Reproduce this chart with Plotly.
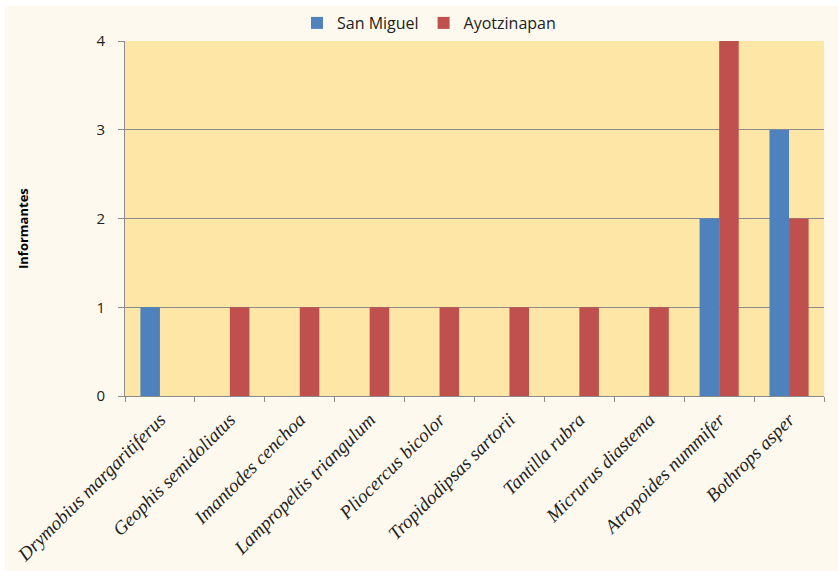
import plotly.graph_objects as go

species = [
    "Drymobius margaritiferus",
    "Geophis semidoliatus",
    "Imantodes cenchoa",
    "Lampropeltis triangulum",
    "Pliocercus bicolor",
    "Tropidodipsas sartorii",
    "Tantilla rubra",
    "Micrurus diastema",
    "Atropoides nummifer",
    "Bothrops asper",
]
san_miguel = [1, 0, 0, 0, 0, 0, 0, 0, 2, 3]
ayotzinapan = [0, 1, 1, 1, 1, 1, 1, 1, 4, 2]
y_ticks = [0, 1, 2, 3, 4]

W, H = 838, 571
L, R, T, B = 125, 14, 41, 175
pw, ph = W - L - R, H - T - B

def px_x(x):
    return (x - L) / pw

def px_y(y):
    return (H - B - y) / ph

fig = go.Figure()
fig.add_trace(go.Bar(name="San Miguel", x=species, y=san_miguel,
                     marker=dict(color="#4F81BD", line=dict(width=0))))
fig.add_trace(go.Bar(name="Ayotzinapan", x=species, y=ayotzinapan,
                     marker=dict(color="#C0504D", line=dict(width=0))))

fig.update_layout(
    width=W, height=H,
    margin=dict(l=L, r=R, t=T, b=B, pad=0, autoexpand=False),
    barmode="group",
    bargap=0.44,
    bargroupgap=0,
    paper_bgcolor="#FEF9EE",
    plot_bgcolor="#FEE6A6",
    showlegend=True,
    legend=dict(
        orientation="h",
        x=px_x(429), xanchor="center",
        y=px_y(23), yanchor="middle",
        bgcolor="rgba(0,0,0,0)",
        font=dict(family="Open Sans", size=16, color="#222222"),
        itemwidth=30,
        traceorder="normal",
    ),
    shapes=[
        # white strips along the top and left edges of the page
        dict(type="rect", xref="paper", yref="paper",
             x0=px_x(0), x1=px_x(W), y0=px_y(6), y1=px_y(0),
             fillcolor="white", line=dict(width=0), layer="below"),
        dict(type="rect", xref="paper", yref="paper",
             x0=px_x(0), x1=px_x(5), y0=px_y(H), y1=px_y(0),
             fillcolor="white", line=dict(width=0), layer="below"),
    ],
    annotations=[
        dict(text="<b>Informantes</b>", xref="paper", yref="paper",
             x=px_x(23), y=px_y(229), xanchor="center", yanchor="middle",
             textangle=-90, showarrow=False,
             font=dict(family="Open Sans", size=13, color="#000000")),
    ],
)

fig.update_xaxes(
    type="category",
    tickangle=-45,
    tickfont=dict(family="Liberation Serif", size=19, style="italic", color="#222222"),
    showline=True, linecolor="#8C8C8C", linewidth=1,
    ticks="outside", tickson="boundaries", ticklen=5, tickcolor="#8C8C8C",
    ticklabelstandoff=4,
    showgrid=False,
)
fig.update_yaxes(
    range=[0, 4],
    tickvals=y_ticks,
    tickfont=dict(family="Open Sans", size=15, color="#222222"),
    ticklabelstandoff=10,
    showline=True, linecolor="#8C8C8C", linewidth=1,
    ticks="outside", ticklen=6, tickcolor="#8C8C8C",
    showgrid=True, gridcolor="#8C8C8C", gridwidth=1,
    zeroline=False,
)

fig.write_html("out.html")
